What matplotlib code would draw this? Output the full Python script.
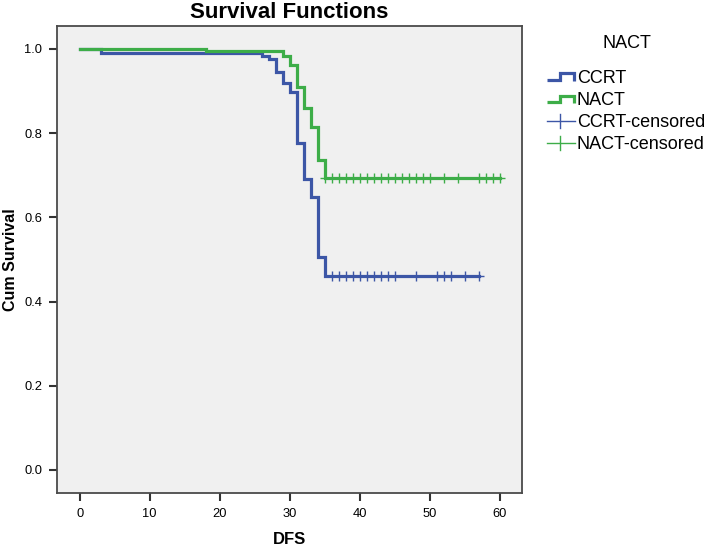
import numpy as np
import matplotlib
matplotlib.use("Agg")
import matplotlib.pyplot as plt
from matplotlib.lines import Line2D
from matplotlib.legend_handler import HandlerBase

# ---- data ----
groups = ["CCRT", "NACT"]
ccrt_event_times = [3, 26, 27, 28, 29, 30, 31, 32, 33, 34, 35]
ccrt_survival = [0.991, 0.984, 0.976, 0.946, 0.920, 0.897, 0.776, 0.691, 0.648, 0.505, 0.461]
ccrt_censored = [36, 37, 38, 39, 40, 41, 42, 43, 44, 45, 48, 51, 52, 53, 55, 57]

nact_event_times = [18, 29, 30, 31, 32, 33, 34, 35]
nact_survival = [0.995, 0.984, 0.962, 0.910, 0.859, 0.814, 0.737, 0.694]
nact_censored = [35, 36, 37, 38, 39, 40, 41, 42, 43, 44, 45, 46, 47, 48, 49, 50,
                 52, 54, 57, 58, 59, 60]

x_ticks = [0, 10, 20, 30, 40, 50, 60]
y_ticks = [0.0, 0.2, 0.4, 0.6, 0.8, 1.0]

colors = {"CCRT": "#3C56A6", "NACT": "#3DAD48"}

plt.rcParams['font.family'] = ['Liberation Sans', 'DejaVu Sans']

fig = plt.figure(figsize=(7.08, 5.47), dpi=100)
ax = fig.add_axes([0.0801, 0.0993, 0.6576, 0.8532])
ax.set_facecolor('#F0F0F0')


def km_curve(times, surv, cens):
    end = max(max(times), max(cens))
    xs = np.array([0.0] + list(times) + [end], dtype=float)
    ys = np.array([1.0] + list(surv) + [surv[-1]], dtype=float)
    return xs, ys


def surv_at(t, times, surv):
    s = 1.0
    for tt, ss in zip(times, surv):
        if tt <= t:
            s = ss
    return s


series = [
    ("CCRT", ccrt_event_times, ccrt_survival, ccrt_censored),
    ("NACT", nact_event_times, nact_survival, nact_censored),
]

for name, times, surv, cens in series:
    xs, ys = km_curve(times, surv, cens)
    ax.step(xs, ys, where='post', color=colors[name], lw=2.3,
            solid_joinstyle='miter', zorder=3)

for name, times, surv, cens in series:
    cy = [surv_at(t, times, surv) for t in cens]
    ax.plot(cens, cy, linestyle='none', marker='+', markersize=6.5,
            markeredgewidth=1.0, color=colors[name], zorder=4)

ax.set_xlim(-3.29, 63.23)
ax.set_ylim(-0.054, 1.0546)
ax.set_xticks(x_ticks)
ax.set_xticklabels([str(v) for v in x_ticks])
ax.set_yticks(y_ticks)
ax.set_yticklabels([f"{v:.1f}" for v in y_ticks])

ax.tick_params(axis='both', direction='out', length=6, width=1.5,
               color='#333333', labelsize=9.3, labelcolor='black')
ax.tick_params(axis='y', pad=4.5)
ax.tick_params(axis='x', pad=5)
for sp in ax.spines.values():
    sp.set_color('#4a4a4a')
    sp.set_linewidth(1.3)

ax.set_title('Survival Functions', fontsize=16, fontweight='bold', pad=5.5)
ax.set_xlabel('DFS', fontsize=12, fontweight='bold')
ax.set_ylabel('Cum Survival', fontsize=11.5, fontweight='bold')
ax.xaxis.label.set_va('center')
ax.yaxis.label.set_va('center')
ax.xaxis.set_label_coords(0.5, -0.101)
ax.yaxis.set_label_coords(-0.1, 0.5)


# ---- legend ----
class StepHandler(HandlerBase):
    def create_artists(self, legend, orig_handle, xdescent, ydescent,
                       width, height, fontsize, trans):
        x0, y0 = -xdescent, -ydescent
        yc = y0 + height / 2.0
        d = 2.3
        xs = [x0, x0 + 0.48 * width, x0 + 0.48 * width, x0 + 0.97 * width, x0 + 0.97 * width]
        ys = [yc - d, yc - d, yc + d, yc + d, yc - d - 1.0]
        ln = Line2D(xs, ys, color=orig_handle.get_color(), lw=2.3,
                    solid_joinstyle='miter', solid_capstyle='butt')
        ln.set_transform(trans)
        return [ln]


class CensorHandler(HandlerBase):
    def create_artists(self, legend, orig_handle, xdescent, ydescent,
                       width, height, fontsize, trans):
        x0, y0 = -xdescent, -ydescent
        yc = y0 + height / 2.0
        h = Line2D([x0, x0 + 1.0 * width], [yc, yc], color=orig_handle.get_color(), lw=1.0)
        v = Line2D([x0 + 0.48 * width] * 2, [yc - 5.0, yc + 5.0], color=orig_handle.get_color(), lw=1.0)
        h.set_transform(trans)
        v.set_transform(trans)
        return [h, v]


class StepProxy(Line2D):
    pass


class CensorProxy(Line2D):
    pass


handles = [StepProxy([], [], color=colors["CCRT"]),
           StepProxy([], [], color=colors["NACT"]),
           CensorProxy([], [], color=colors["CCRT"]),
           CensorProxy([], [], color=colors["NACT"])]
labels = ["CCRT", "NACT", "CCRT-censored", "NACT-censored"]

W, H = 708.0, 547.0
leg = fig.legend(handles, labels, loc='upper left',
                 bbox_to_anchor=(547 / W, 1 - 70 / H), bbox_transform=fig.transFigure,
                 frameon=False, borderpad=0, borderaxespad=0,
                 handlelength=1.55, handleheight=0.7, handletextpad=0.1,
                 labelspacing=0.28, fontsize=13,
                 handler_map={StepProxy: StepHandler(), CensorProxy: CensorHandler()})
fig.text(626.7 / W, 1 - 43.3 / H, 'NACT', ha='center', va='center', fontsize=13)

fig.savefig('out.png', dpi=100, facecolor='white')
